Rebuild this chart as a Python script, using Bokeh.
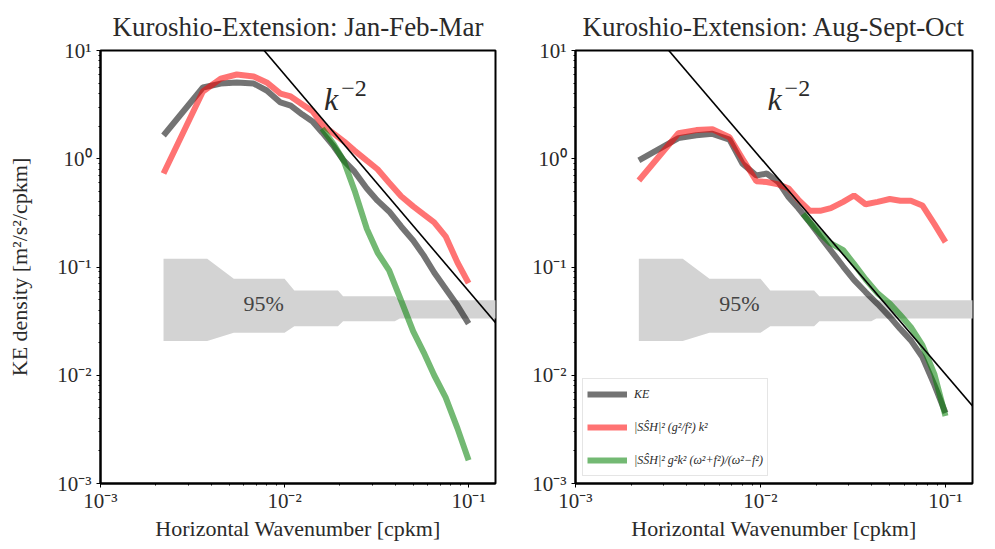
from bokeh.plotting import figure
from bokeh.layouts import row
from bokeh.models import (FixedTicker, CustomJSTickFormatter, Label, Legend,
                          LegendItem, Range1d)
from bokeh.embed import file_html
from bokeh.resources import INLINE

# ---------------- data ----------------
titles = ["Kuroshio-Extension: Jan-Feb-Mar", "Kuroshio-Extension: Aug-Sept-Oct"]

k = [0.0022, 0.0036, 0.0045, 0.0055, 0.0068, 0.0080, 0.0095, 0.0108, 0.0125,
     0.0142, 0.016, 0.0185, 0.021, 0.024, 0.028, 0.032, 0.037, 0.043, 0.05,
     0.057, 0.065, 0.075, 0.087, 0.1]

ke_jfm = [1.64, 4.55, 4.95, 5.07, 4.95, 4.27, 3.31, 3.1, 2.56, 2.21, 1.75,
          1.30, 0.96, 0.76, 0.53, 0.41, 0.326, 0.237, 0.176, 0.128, 0.089,
          0.063, 0.044, 0.030]
ssh_jfm = [0.73, 4.18, 5.5, 6.0, 5.75, 5.07, 4.0, 3.76, 3.17, 2.74, 2.07,
           1.71, 1.45, 1.19, 0.96, 0.80, 0.60, 0.45, 0.363, 0.306, 0.258,
           0.192, 0.110, 0.071]
k_green_jfm = [0.016, 0.0185, 0.021, 0.024, 0.028, 0.032, 0.037, 0.043, 0.05,
               0.057, 0.065, 0.075, 0.087, 0.1]
sshw_jfm = [1.9, 1.36, 0.95, 0.51, 0.225, 0.136, 0.093, 0.049, 0.0254,
            0.0163, 0.0100, 0.00625, 0.00323, 0.00164]

ke_aso = [0.965, 1.55, 1.65, 1.70, 1.50, 0.90, 0.70, 0.73, 0.61, 0.44, 0.35,
          0.257, 0.192, 0.142, 0.101, 0.076, 0.0587, 0.0455, 0.0346, 0.0268,
          0.021, 0.0147, 0.0082, 0.0045]
ssh_aso = [0.63, 1.72, 1.84, 1.87, 1.58, 1.0, 0.62, 0.61, 0.58, 0.53, 0.42,
           0.33, 0.33, 0.35, 0.40, 0.458, 0.38, 0.40, 0.425, 0.41, 0.41,
           0.37, 0.25, 0.17]
k_green_aso = [0.017, 0.0185, 0.021, 0.024, 0.028, 0.032, 0.037, 0.043, 0.05,
               0.057, 0.065, 0.075, 0.087, 0.1]
sshw_aso = [0.31, 0.26, 0.205, 0.165, 0.143, 0.107, 0.077, 0.057, 0.046,
            0.036, 0.0278, 0.019, 0.0103, 0.0042]

# 95% confidence band
k_band = [0.0022, 0.0038, 0.0053, 0.0100, 0.0113, 0.0195, 0.0208, 0.0397,
          0.0423, 0.2]
band_hi = [0.119, 0.119, 0.078, 0.078, 0.0608, 0.0608, 0.0536, 0.0536,
           0.0492, 0.0492]
band_lo = [0.0207, 0.0207, 0.0247, 0.0247, 0.0283, 0.0283, 0.0315, 0.0315,
           0.0334, 0.0334]

# k^-2 reference line amplitudes
amp_ref = [6.0e-4, 1.02e-4]
k_ref = [1e-3, 0.2]

x_major = [1e-3, 1e-2, 1e-1]
y_major = [1e-3, 1e-2, 1e-1, 1e0, 1e1]

legend_labels = ["KE", "|S\u015cH|\u00b2 (g\u00b2/f\u00b2) k\u00b2",
                 "|S\u015cH|\u00b2 g\u00b2k\u00b2 (\u03c9\u00b2+f\u00b2)/(\u03c9\u00b2\u2212f\u00b2)"]

# ---------------- styling ----------------
SERIF = "Liberation Serif"
TXT = "#2a2a2a"

fmt_code = """
const sup = {"-": "\u207b", "0": "\u2070", "1": "\u00b9", "2": "\u00b2", "3": "\u00b3"};
const e = Math.round(Math.log10(tick));
return "10" + String(e).split("").map(c => sup[c]).join("");
"""


def minor(decades):
    out = []
    for d in decades:
        for m in range(2, 10):
            out.append(m * 10.0 ** d)
    return out


def panel(title, width, bl, br, ylabel, ke, ssh, kg, sshw, amp, kx, sx):
    p = figure(width=width, height=549, x_axis_type="log", y_axis_type="log",
               x_range=Range1d(1e-3, 0.14), y_range=Range1d(1e-3, 10),
               output_backend="svg", toolbar_location=None,
               min_border_left=bl, min_border_right=br,
               min_border_top=50, min_border_bottom=66, title=title)
    p.background_fill_color = "white"
    p.border_fill_color = "white"
    p.outline_line_color = "black"
    p.outline_line_width = 2
    p.outline_line_alpha = 1
    p.xgrid.visible = False
    p.ygrid.visible = False

    p.title.text_font = SERIF
    p.title.text_font_size = "27px"
    p.title.text_font_style = "normal"
    p.title.text_color = TXT
    p.title.align = "center"
    p.title.standoff = 18

    p.xaxis.ticker = FixedTicker(ticks=x_major, minor_ticks=minor([-3, -2, -1]))
    p.yaxis.ticker = FixedTicker(ticks=y_major, minor_ticks=minor([-3, -2, -1, 0]))
    for ax in (p.xaxis[0], p.yaxis[0]):
        ax.formatter = CustomJSTickFormatter(code=fmt_code)
        ax.axis_line_color = "black"
        ax.axis_line_width = 2
        ax.major_tick_line_color = "black"
        ax.minor_tick_line_color = "black"
        ax.major_tick_out = 4
        ax.major_tick_in = 0
        ax.minor_tick_out = 2
        ax.minor_tick_in = 0
        ax.major_label_text_font = SERIF
        ax.major_label_text_font_size = "21px"
        ax.major_label_text_color = TXT
        ax.axis_label_text_font = SERIF
        ax.axis_label_text_font_size = "22px"
        ax.axis_label_text_font_style = "normal"
        ax.axis_label_text_color = TXT
    p.xaxis.major_label_standoff = 1
    p.xaxis.axis_label_standoff = 0
    p.yaxis.major_label_standoff = 5
    p.yaxis.axis_label_standoff = 22
    p.xaxis.axis_label = "Horizontal Wavenumber [cpkm]"
    if ylabel:
        p.yaxis.axis_label = "KE density [m\u00b2/s\u00b2/cpkm]"

    # confidence band
    p.varea(x=k_band, y1=band_lo, y2=band_hi, fill_color="#d3d3d3", fill_alpha=1)
    p.add_layout(Label(x=0.0077, y=0.046, text="95%", text_align="center",
                       text_baseline="middle", text_font=SERIF,
                       text_font_size="22px", text_color="#444444"))

    # spectra
    r1 = p.line(k, ke, line_color="black", line_alpha=0.55, line_width=6)
    r2 = p.line(k, ssh, line_color="red", line_alpha=0.55, line_width=6)
    r3 = p.line(kg, sshw, line_color="green", line_alpha=0.55, line_width=6)

    # k^-2 reference
    p.line(k_ref, [amp * kk ** -2 for kk in k_ref], line_color="black", line_width=1.6)
    p.add_layout(Label(x=kx, y=3.6, text="k", text_font=SERIF,
                       text_font_style="italic", text_font_size="32px",
                       text_baseline="alphabetic", text_color=TXT))
    p.add_layout(Label(x=sx, y=4.5, text="\u22122", text_font=SERIF,
                       text_font_size="24px", text_baseline="alphabetic",
                       text_color=TXT))
    return p, (r1, r2, r3)


p1, _ = panel(titles[0], 497, 100, 2, True, ke_jfm, ssh_jfm, k_green_jfm,
              sshw_jfm, amp_ref[0], 0.0164, 0.0203)
p2, rs = panel(titles[1], 498, 78, 23, False, ke_aso, ssh_aso, k_green_aso,
               sshw_aso, amp_ref[1], 0.01092, 0.0135)

legend = Legend(items=[LegendItem(label=lab, renderers=[r])
                       for lab, r in zip(legend_labels, rs)],
                location="bottom_left")
legend.label_text_font = SERIF
legend.label_text_font_size = "12px"
legend.label_text_font_style = "italic"
legend.label_text_color = TXT
legend.glyph_width = 40
legend.glyph_height = 22
legend.label_height = 22
legend.spacing = 11
legend.padding = 4
legend.margin = 7
legend.label_standoff = 7
legend.border_line_color = "#cccccc"
legend.border_line_width = 1
legend.background_fill_alpha = 0.85
p2.add_layout(legend)

layout = row(p1, p2)
open("out.html", "w").write(file_html(layout, INLINE))
